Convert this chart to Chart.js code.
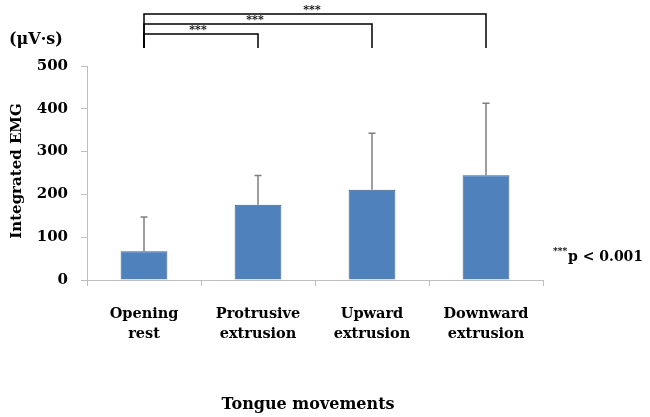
<!DOCTYPE html>
<html lang="en">
<head>
    <meta charset="UTF-8">
    <title>Integrated EMG</title>
    <script src="https://cdn.jsdelivr.net/npm/chart.js@4/dist/chart.umd.min.js"></script>
    <style>
        body {
            margin: 0;
            background: white;
        }
        #wrap {
            width: 650px;
            height: 417px;
        }
    </style>
</head>
<body>
    <div id="wrap"><canvas id="myChart" width="650" height="417"></canvas></div>

<script>
// data
const categories = [["Opening", "rest"], ["Protrusive", "extrusion"], ["Upward", "extrusion"], ["Downward", "extrusion"]];
const means = [67, 176, 211, 245];
const sds = [80, 68, 132, 168];
const yTicks = [0, 100, 200, 300, 400, 500];
const sigPairs = [[0, 1], [0, 2], [0, 3]];
const sigLabels = ["***", "***", "***"];

const SERIF = "'DejaVu Serif', serif";

const extras = {
  id: "extras",
  afterDatasetsDraw(chart) {
    const ctx = chart.ctx;
    const x = chart.scales.x, y = chart.scales.y;

    // error bars (upper only)
    ctx.save();
    ctx.strokeStyle = "#7f7f7f";
    ctx.lineWidth = 1.5;
    means.forEach((m, i) => {
      const px = x.getPixelForValue(i);
      const top = y.getPixelForValue(m + sds[i]);
      const base = y.getPixelForValue(m);
      ctx.beginPath();
      ctx.moveTo(px, base);
      ctx.lineTo(px, top);
      ctx.moveTo(px - 3.5, top);
      ctx.lineTo(px + 3.5, top);
      ctx.stroke();
    });
    ctx.restore();
  },
  afterDraw(chart) {
    const ctx = chart.ctx;
    const x = chart.scales.x;
    ctx.save();

    // significance brackets
    ctx.strokeStyle = "#000";
    ctx.lineWidth = 1.5;
    ctx.fillStyle = "#000";
    sigPairs.forEach((p, k) => {
      const x1 = x.getPixelForValue(p[0]);
      const x2 = x.getPixelForValue(p[1]);
      const yy = 34 - k * 10;
      ctx.beginPath();
      ctx.moveTo(x1, 48);
      ctx.lineTo(x1, yy);
      ctx.lineTo(x2, yy);
      ctx.lineTo(x2, 48);
      ctx.stroke();
      ctx.font = "bold 11px " + SERIF;
      ctx.textAlign = "center";
      ctx.textBaseline = "middle";
      ctx.fillText(sigLabels[k], (x1 + x2) / 2 - 3, yy - 4);
    });

    // unit label
    ctx.font = "bold 16px " + SERIF;
    ctx.textAlign = "left";
    ctx.textBaseline = "middle";
    ctx.fillText("(\u03bcV\u00b7s)", 9, 40);

    // y axis title
    ctx.save();
    ctx.translate(17, 171);
    ctx.rotate(-Math.PI / 2);
    ctx.textAlign = "center";
    ctx.font = "bold 15px " + SERIF;
    ctx.fillText("Integrated EMG", 0, 0);
    ctx.restore();

    // x axis title
    ctx.textAlign = "center";
    ctx.font = "bold 16px " + SERIF;
    ctx.fillText("Tongue movements", 308, 405);

    // p-value note
    ctx.textAlign = "left";
    ctx.font = "bold 9px " + SERIF;
    ctx.fillText("***", 553, 252);
    ctx.font = "bold 14px " + SERIF;
    ctx.fillText("p < 0.001", 568, 257);

    ctx.restore();
  }
};

new Chart("myChart", {
  type: "bar",
  data: {
    labels: categories,
    datasets: [{
      data: means,
      backgroundColor: "#4f81bd",
      borderColor: "#385d8a",
      borderWidth: 1,
      barPercentage: 0.41,
      categoryPercentage: 1.0
    }]
  },
  options: {
    responsive: false,
    animation: false,
    layout: { padding: { left: 0, top: 66, right: 107, bottom: 0 } },
    plugins: {
      legend: { display: false },
      tooltip: { enabled: false }
    },
    scales: {
      x: {
        afterFit: s => { s.height = 137; },
        grid: { drawOnChartArea: false, tickLength: 6, color: "#bfbfbf", offset: true },
        border: { color: "#bfbfbf" },
        ticks: {
          color: "#000",
          padding: 18,
          maxRotation: 0,
          font: { family: SERIF, size: 14.5, weight: "bold", lineHeight: 1.4 }
        }
      },
      y: {
        min: 0,
        max: 500,
        afterFit: s => { s.width = 87; },
        afterBuildTicks: s => { s.ticks = yTicks.map(v => ({ value: v })); },
        grid: { drawOnChartArea: false, tickLength: 6, color: "#bfbfbf" },
        border: { color: "#bfbfbf" },
        ticks: {
          color: "#000",
          padding: 13,
          font: { family: SERIF, size: 15, weight: "bold" }
        }
      }
    }
  },
  plugins: [extras]
});
</script>
</body>
</html>
